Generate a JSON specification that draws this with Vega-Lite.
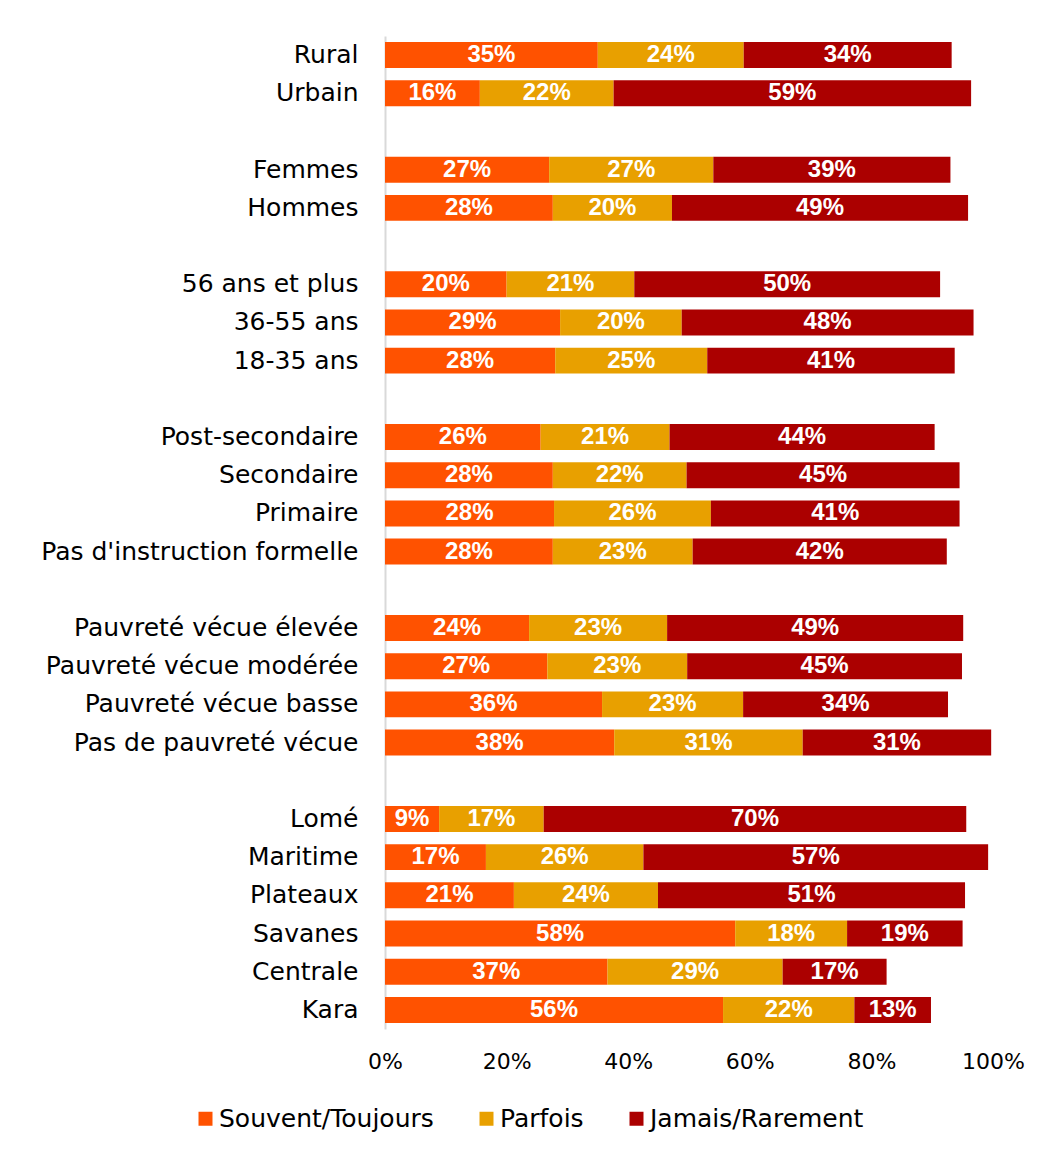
{
"$schema": "https://vega.github.io/schema/vega-lite/v6.json",
"width": 608,
"height": 993,
"autosize": {"type": "none"},
"padding": {"left": 385, "top": 36, "right": 44, "bottom": 123},
"background": "white",
"config": {"view": {"stroke": null}},
"data": {"values": [
{"cat": "Rural", "Souvent/Toujours": 0.35, "Parfois": 0.24, "Jamais/Rarement": 0.342},
{"cat": "Urbain", "Souvent/Toujours": 0.156, "Parfois": 0.22, "Jamais/Rarement": 0.588},
{"cat": "Femmes", "Souvent/Toujours": 0.27, "Parfois": 0.27, "Jamais/Rarement": 0.39},
{"cat": "Hommes", "Souvent/Toujours": 0.276, "Parfois": 0.196, "Jamais/Rarement": 0.487},
{"cat": "56 ans et plus", "Souvent/Toujours": 0.20, "Parfois": 0.21, "Jamais/Rarement": 0.503},
{"cat": "36-55 ans", "Souvent/Toujours": 0.288, "Parfois": 0.20, "Jamais/Rarement": 0.48},
{"cat": "18-35 ans", "Souvent/Toujours": 0.28, "Parfois": 0.25, "Jamais/Rarement": 0.407},
{"cat": "Post-secondaire", "Souvent/Toujours": 0.256, "Parfois": 0.212, "Jamais/Rarement": 0.436},
{"cat": "Secondaire", "Souvent/Toujours": 0.276, "Parfois": 0.22, "Jamais/Rarement": 0.449},
{"cat": "Primaire", "Souvent/Toujours": 0.278, "Parfois": 0.258, "Jamais/Rarement": 0.409},
{"cat": "Pas d'instruction formelle", "Souvent/Toujours": 0.276, "Parfois": 0.23, "Jamais/Rarement": 0.418},
{"cat": "Pauvreté vécue élevée", "Souvent/Toujours": 0.237, "Parfois": 0.227, "Jamais/Rarement": 0.487},
{"cat": "Pauvreté vécue modérée", "Souvent/Toujours": 0.267, "Parfois": 0.23, "Jamais/Rarement": 0.452},
{"cat": "Pauvreté vécue basse", "Souvent/Toujours": 0.357, "Parfois": 0.232, "Jamais/Rarement": 0.337},
{"cat": "Pas de pauvreté vécue", "Souvent/Toujours": 0.377, "Parfois": 0.31, "Jamais/Rarement": 0.31},
{"cat": "Lomé", "Souvent/Toujours": 0.089, "Parfois": 0.172, "Jamais/Rarement": 0.695},
{"cat": "Maritime", "Souvent/Toujours": 0.166, "Parfois": 0.259, "Jamais/Rarement": 0.567},
{"cat": "Plateaux", "Souvent/Toujours": 0.212, "Parfois": 0.237, "Jamais/Rarement": 0.505},
{"cat": "Savanes", "Souvent/Toujours": 0.576, "Parfois": 0.184, "Jamais/Rarement": 0.19},
{"cat": "Centrale", "Souvent/Toujours": 0.366, "Parfois": 0.288, "Jamais/Rarement": 0.171},
{"cat": "Kara", "Souvent/Toujours": 0.556, "Parfois": 0.216, "Jamais/Rarement": 0.126}
]},
"transform": [{"fold": ["Souvent/Toujours", "Parfois", "Jamais/Rarement"], "as": ["resp", "v"]}],
"encoding": {
  "y": {"field": "cat", "type": "nominal", "title": null,
    "scale": {"domain": ["Rural", "Urbain", " ", "Femmes", "Hommes", "  ", "56 ans et plus", "36-55 ans", "18-35 ans", "   ", "Post-secondaire", "Secondaire", "Primaire", "Pas d'instruction formelle", "    ", "Pauvreté vécue élevée", "Pauvreté vécue modérée", "Pauvreté vécue basse", "Pas de pauvreté vécue", "     ", "Lomé", "Maritime", "Plateaux", "Savanes", "Centrale", "Kara"], "paddingInner": 0.32, "paddingOuter": 0.16},
    "axis": {"domainColor": "#D9D9D9", "domainWidth": 2, "ticks": false, "labelPadding": 27, "labelFontSize": 25, "labelFont": "DejaVu Sans", "labelColor": "#000000", "labelLimit": 500}},
  "x": {"field": "v", "type": "quantitative", "stack": "zero", "title": null,
    "scale": {"domain": [0, 1], "nice": false},
    "axis": {"values": [0, 0.2, 0.4, 0.6, 0.8, 1], "format": ".0%", "domain": false, "ticks": false, "grid": false, "labelFlush": false, "labelPadding": 22, "labelFontSize": 22, "labelFont": "DejaVu Sans", "labelColor": "#000000"}},
  "order": {"field": "resp", "sort": "descending"}
},
"layer": [
  {"mark": {"type": "bar"},
   "encoding": {"color": {"field": "resp", "type": "nominal", "sort": ["Souvent/Toujours", "Parfois", "Jamais/Rarement"],
     "scale": {"domain": ["Souvent/Toujours", "Parfois", "Jamais/Rarement"], "range": ["#FF5200", "#E8A000", "#AB0000"]},
     "legend": {"title": null, "orient": "none", "direction": "horizontal", "legendX": -192, "legendY": 1070, "symbolType": "square", "symbolSize": 196, "symbolStrokeWidth": 0, "labelOffset": 1, "columnPadding": 40, "labelFontSize": 25, "labelFont": "DejaVu Sans", "labelColor": "#000000", "labelLimit": 400}}}},
  {"mark": {"type": "text", "font": "Liberation Sans", "fontWeight": "bold", "fontSize": 24, "baseline": "middle", "align": "center"},
   "encoding": {
     "x": {"field": "v", "type": "quantitative", "stack": "zero", "bandPosition": 0.5},
     "color": {"field": "resp", "type": "nominal", "sort": ["Souvent/Toujours", "Parfois", "Jamais/Rarement"], "scale": {"domain": ["Souvent/Toujours", "Parfois", "Jamais/Rarement"], "range": ["#FFFFFF", "#FFFFFF", "#FFFFFF"]}, "legend": null},
     "text": {"field": "v", "type": "quantitative", "format": ".0%"}}}
],
"resolve": {"scale": {"color": "independent"}}
}
